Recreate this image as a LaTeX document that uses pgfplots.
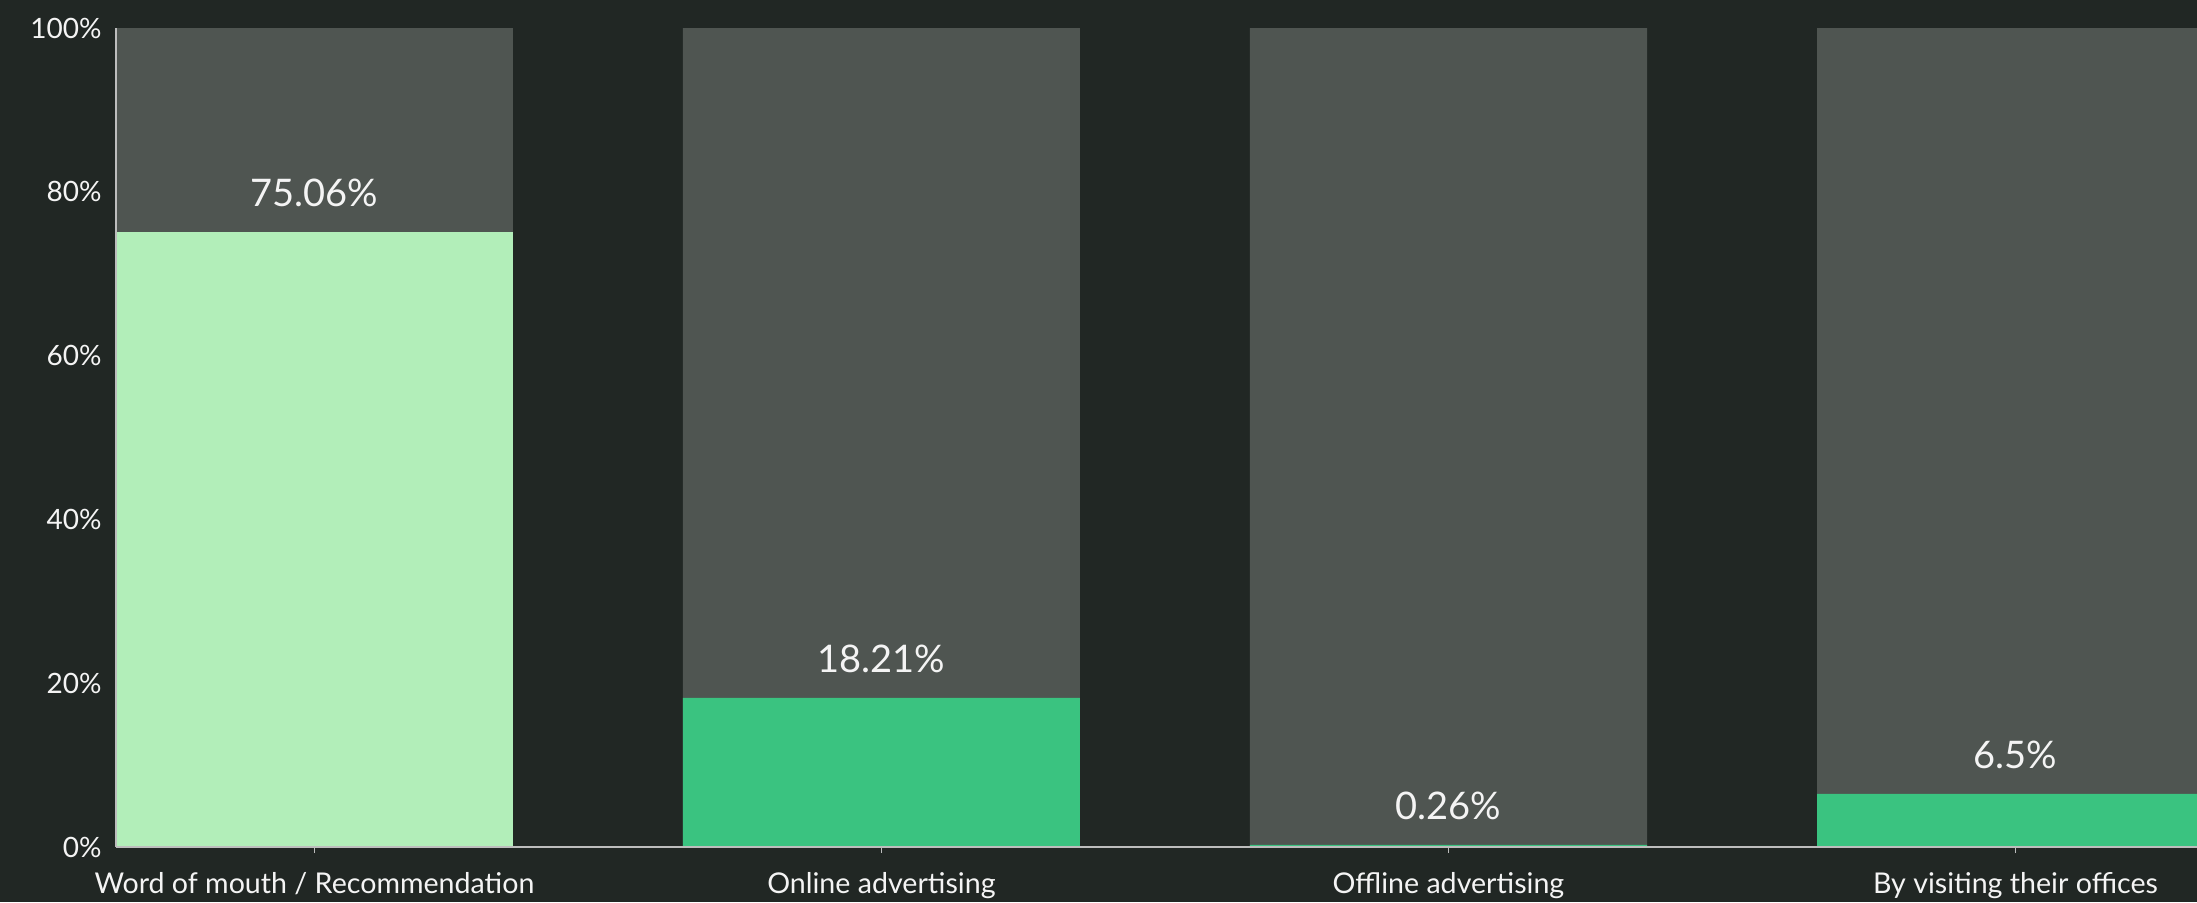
\documentclass[border=0pt]{standalone}
\usepackage{pgfplots}
\pgfplotsset{compat=1.18}
\usepackage{fontspec}
\setmainfont{Lato}
\definecolor{bg}{HTML}{212724}
\definecolor{bargray}{HTML}{4F5551}
\definecolor{lightgreen}{HTML}{B2EEB9}
\definecolor{midgreen}{HTML}{3AC380}
\definecolor{axisgray}{HTML}{BDBDBD}
\definecolor{txt}{HTML}{F4F4F4}
\begin{document}
\begin{tikzpicture}
\fill[bg] (-58pt,-27.5pt) rectangle (1040.5pt,423.5pt);
\begin{axis}[
  at={(0,0)}, anchor=south west,
  scale only axis, width=1040.5pt, height=409.5pt,
  xmin=-0.35, xmax=3.32, ymin=0, ymax=100,
  axis x line*=bottom, axis y line*=left,
  axis line style={draw=axisgray, line width=1.2pt},
  axis on top=true,
  xtick={0,1,2,3},
  xticklabels={Word of mouth / Recommendation, Online advertising, Offline advertising, By visiting their offices},
  ytick={0,20,40,60,80,100},
  yticklabel={\pgfmathprintnumber{\tick}\%},
  /pgf/number format/assume math mode=true,
  xtick style={draw=axisgray, line width=0.5pt},
  ytick style={draw=none},
  major tick length=3pt,
  tick align=outside,
  xticklabel style={font=\fontsize{14.3}{16}\selectfont, text=txt, anchor=base, yshift=-20pt, inner sep=0pt},
  yticklabel style={font=\fontsize{14}{16}\selectfont, text=txt, anchor=east, inner sep=0pt, xshift=-4pt},
  ybar, bar width=198.5pt,
]
\addplot[fill=bargray, draw=none, bar shift=0pt] coordinates {(0,100) (1,100) (2,100) (3,100)};
\addplot[fill=lightgreen, draw=none, bar shift=0pt,
  nodes near coords={\pgfmathprintnumber{\pgfplotspointmeta}\%},
  every node near coord/.append style={font=\fontsize{19}{21}\selectfont, text=txt, anchor=center, yshift=19.5pt}]
  coordinates {(0,75.06)};
\addplot[fill=midgreen, draw=none, bar shift=0pt,
  nodes near coords={\pgfmathprintnumber{\pgfplotspointmeta}\%},
  every node near coord/.append style={font=\fontsize{19}{21}\selectfont, text=txt, anchor=center, yshift=19.5pt}]
  coordinates {(1,18.21) (2,0.26) (3,6.5)};
\end{axis}
\pgfresetboundingbox
\path[use as bounding box] (-58pt,-27.5pt) rectangle (1040.5pt,423.5pt);
\end{tikzpicture}
\end{document}
